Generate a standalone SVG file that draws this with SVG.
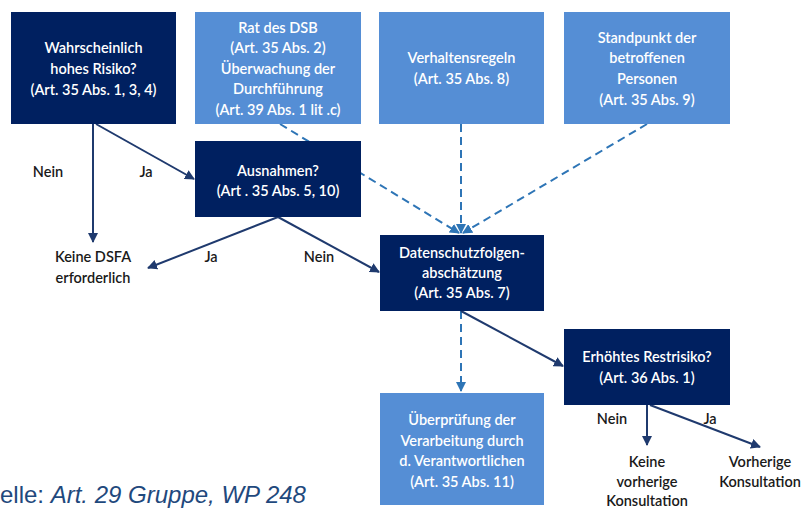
<svg xmlns="http://www.w3.org/2000/svg" width="806" height="509" viewBox="0 0 806 509">
<style>
.dark{fill:#002060}
.light{fill:#558ED5}
.bt{font-family:Lato,"Open Sans","Liberation Sans",sans-serif;font-size:14.5px;font-weight:600;fill:#ffffff;text-anchor:middle}
.lbl{font-family:Lato,"Open Sans","Liberation Sans",sans-serif;font-size:14.5px;font-weight:600;fill:#1a1a1a;text-anchor:middle}
.solid{stroke:#1F3A6E;stroke-width:2;fill:none}
.dash{stroke:#2E75B6;stroke-width:2;fill:none;stroke-dasharray:8 5}
</style>
<defs>
<marker id="ah" viewBox="0 0 10 10" refX="9" refY="5" markerWidth="5" markerHeight="5" orient="auto" markerUnits="strokeWidth">
<path d="M0,0 L10,5 L0,10 z" fill="#1F3A6E"/>
</marker>
<marker id="ahd" viewBox="0 0 10 10" refX="9" refY="5" markerWidth="5" markerHeight="5" orient="auto" markerUnits="strokeWidth">
<path d="M0,0 L10,5 L0,10 z" fill="#2E75B6"/>
</marker>
</defs>
<rect width="806" height="509" fill="#ffffff"/>
<g id="connectors">
<line class="dash" x1="280" y1="124" x2="459" y2="233" marker-end="url(#ahd)"/>
<line class="dash" x1="461" y1="124" x2="461" y2="233" marker-end="url(#ahd)"/>
<line class="dash" x1="647" y1="124" x2="463" y2="233" marker-end="url(#ahd)"/>
<line class="dash" x1="461" y1="311" x2="461" y2="391" marker-end="url(#ahd)"/>
<line class="solid" x1="93" y1="124" x2="93" y2="242" marker-end="url(#ah)"/>
<line class="solid" x1="96" y1="124" x2="194" y2="179" marker-end="url(#ah)"/>
<line class="solid" x1="278" y1="217" x2="148" y2="268" marker-end="url(#ah)"/>
<line class="solid" x1="278" y1="217" x2="379" y2="272" marker-end="url(#ah)"/>
<line class="solid" x1="461" y1="311" x2="563" y2="366" marker-end="url(#ah)"/>
<line class="solid" x1="647" y1="405" x2="647" y2="445" marker-end="url(#ah)"/>
<line class="solid" x1="650" y1="405" x2="760" y2="447" marker-end="url(#ah)"/>
</g>
<g id="n-risiko">
<rect class="dark" x="11" y="12" width="165" height="112"/>
<text class="bt" x="93.5" y="53">Wahrscheinlich</text>
<text class="bt" x="93.5" y="74">hohes Risiko?</text>
<text class="bt" x="93.5" y="95">(Art. 35 Abs. 1, 3, 4)</text>
</g>
<g id="n-rat">
<rect class="light" x="195" y="12" width="166" height="112"/>
<text class="bt" x="278" y="33">Rat des DSB</text>
<text class="bt" x="278" y="53">(Art. 35 Abs. 2)</text>
<text class="bt" x="278" y="74">Überwachung der</text>
<text class="bt" x="278" y="94">Durchführung</text>
<text class="bt" x="278" y="115">(Art. 39 Abs. 1 lit .c)</text>
</g>
<g id="n-verhalten">
<rect class="light" x="379" y="12" width="165" height="112"/>
<text class="bt" x="461.5" y="63">Verhaltensregeln</text>
<text class="bt" x="461.5" y="84">(Art. 35 Abs. 8)</text>
</g>
<g id="n-standpunkt">
<rect class="light" x="564" y="12" width="166" height="112"/>
<text class="bt" x="647" y="43">Standpunkt der</text>
<text class="bt" x="647" y="63">betroffenen</text>
<text class="bt" x="647" y="84">Personen</text>
<text class="bt" x="647" y="105">(Art. 35 Abs. 9)</text>
</g>
<g id="n-ausnahmen">
<rect class="dark" x="195" y="141" width="166" height="76"/>
<text class="bt" x="278" y="176">Ausnahmen?</text>
<text class="bt" x="278" y="196">(Art . 35 Abs. 5, 10)</text>
</g>
<g id="n-dsfa">
<rect class="dark" x="380" y="235" width="164" height="76"/>
<text class="bt" x="462" y="258">Datenschutzfolgen-</text>
<text class="bt" x="462" y="278">abschätzung</text>
<text class="bt" x="462" y="298">(Art. 35 Abs. 7)</text>
</g>
<g id="n-restrisiko">
<rect class="dark" x="564" y="329" width="166" height="76"/>
<text class="bt" x="647" y="362">Erhöhtes Restrisiko?</text>
<text class="bt" x="647" y="383">(Art. 36 Abs. 1)</text>
</g>
<g id="n-ueberpruefung">
<rect class="light" x="380" y="393" width="164" height="112"/>
<text class="bt" x="462" y="425">Überprüfung der</text>
<text class="bt" x="462" y="446">Verarbeitung durch</text>
<text class="bt" x="462" y="466">d. Verantwortlichen</text>
<text class="bt" x="462" y="487">(Art. 35 Abs. 11)</text>
</g>
<g id="n-keine-dsfa">
<text class="lbl" x="93" y="262">Keine DSFA</text>
<text class="lbl" x="93" y="283">erforderlich</text>
</g>
<g id="n-keine-konsultation">
<text class="lbl" x="647" y="467">Keine</text>
<text class="lbl" x="647" y="487">vorherige</text>
<text class="lbl" x="647" y="506">Konsultation</text>
</g>
<g id="n-vorherige-konsultation">
<text class="lbl" x="760" y="467">Vorherige</text>
<text class="lbl" x="760" y="487">Konsultation</text>
</g>
<g id="labels">
<text class="lbl" x="48" y="177">Nein</text>
<text class="lbl" x="146" y="177">Ja</text>
<text class="lbl" x="211" y="262">Ja</text>
<text class="lbl" x="319" y="262">Nein</text>
<text class="lbl" x="612" y="424">Nein</text>
<text class="lbl" x="710" y="424">Ja</text>
</g>
<text x="0" y="503" font-family="'Liberation Sans',Arial,sans-serif" font-size="24" fill="#1F497D">elle: <tspan font-style="italic">Art. 29 Gruppe, WP 248</tspan></text>
</svg>
